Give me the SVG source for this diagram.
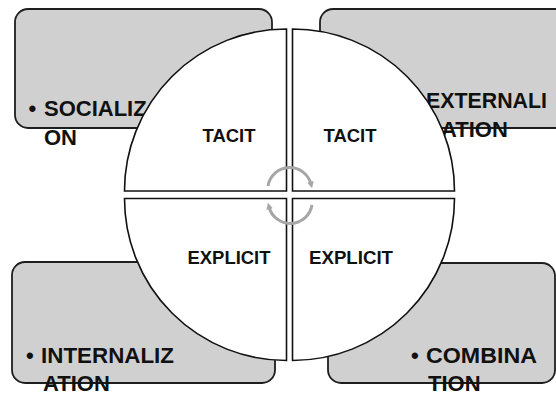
<svg xmlns="http://www.w3.org/2000/svg" width="556" height="394" viewBox="0 0 556 394">
<style>
.box{fill:#d0d0d0;stroke:#1e1e1e;stroke-width:1.8}
.quad{fill:#ffffff;stroke:#111111;stroke-width:1.6}
.lbl{font-family:"Liberation Sans",Arial,sans-serif;font-weight:bold;font-size:22px;fill:#111111}
.ql{font-family:"Liberation Sans",Arial,sans-serif;font-weight:bold;font-size:19px;fill:#111111;text-anchor:middle}
.arc{fill:none;stroke:#a6a6a6;stroke-width:3}
</style>
<defs>
<marker id="ah" viewBox="0 0 6 6" refX="2" refY="3" markerWidth="2.2" markerHeight="2.2" orient="auto" markerUnits="strokeWidth">
<path d="M0,0 L6,3 L0,6 Z" fill="#a6a6a6"/>
</marker>
</defs>
<rect width="556" height="394" fill="#ffffff"/>
<g id="socialization">
<rect class="box" x="15" y="9" width="257" height="119" rx="13"/>
<text class="lbl" x="28.5" y="116">•</text>
<text class="lbl" x="44" y="116">SOCIALIZ</text>
<text class="lbl" x="44" y="145">ON</text>
</g>
<g id="externalization">
<rect class="box" x="320" y="9" width="250" height="119" rx="13"/>
<text class="lbl" x="426" y="108" textLength="121" lengthAdjust="spacingAndGlyphs">EXTERNALI</text>
<text class="lbl" x="441" y="137">ATION</text>
</g>
<g id="internalization">
<rect class="box" x="12" y="262" width="263" height="121" rx="13"/>
<text class="lbl" x="26" y="363">•</text>
<text class="lbl" x="41" y="363" textLength="133" lengthAdjust="spacingAndGlyphs">INTERNALIZ</text>
<text class="lbl" x="43" y="391">ATION</text>
</g>
<g id="combination">
<rect class="box" x="328" y="263" width="227" height="120" rx="13"/>
<text class="lbl" x="411" y="363">•</text>
<text class="lbl" x="426" y="363" textLength="111" lengthAdjust="spacingAndGlyphs">COMBINA</text>
<text class="lbl" x="428" y="391">TION</text>
</g>
<g id="tacit-left">
<path class="quad" d="M286.5,191 L124.5,191 A162,162 0 0 1 286.5,29 Z"/>
<text class="ql" x="229" y="142" textLength="53" lengthAdjust="spacingAndGlyphs">TACIT</text>
</g>
<g id="tacit-right">
<path class="quad" d="M292.5,191 L292.5,29 A162,162 0 0 1 454.5,191 Z"/>
<text class="ql" x="350" y="142" textLength="53" lengthAdjust="spacingAndGlyphs">TACIT</text>
</g>
<g id="explicit-left">
<path class="quad" d="M286.5,198.5 L286.5,360.5 A162,162 0 0 1 124.5,198.5 Z"/>
<text class="ql" x="229" y="264" textLength="83" lengthAdjust="spacingAndGlyphs">EXPLICIT</text>
</g>
<g id="explicit-right">
<path class="quad" d="M292.5,198.5 L454.5,198.5 A162,162 0 0 1 292.5,360.5 Z"/>
<text class="ql" x="351" y="264" textLength="84" lengthAdjust="spacingAndGlyphs">EXPLICIT</text>
</g>
<g id="connectors">
<path class="arc" d="M268,186 A22,22 0 0 1 311,184" marker-end="url(#ah)"/>
<path class="arc" d="M312,205 A22,22 0 0 1 269,207" marker-end="url(#ah)"/>
</g>
</svg>
